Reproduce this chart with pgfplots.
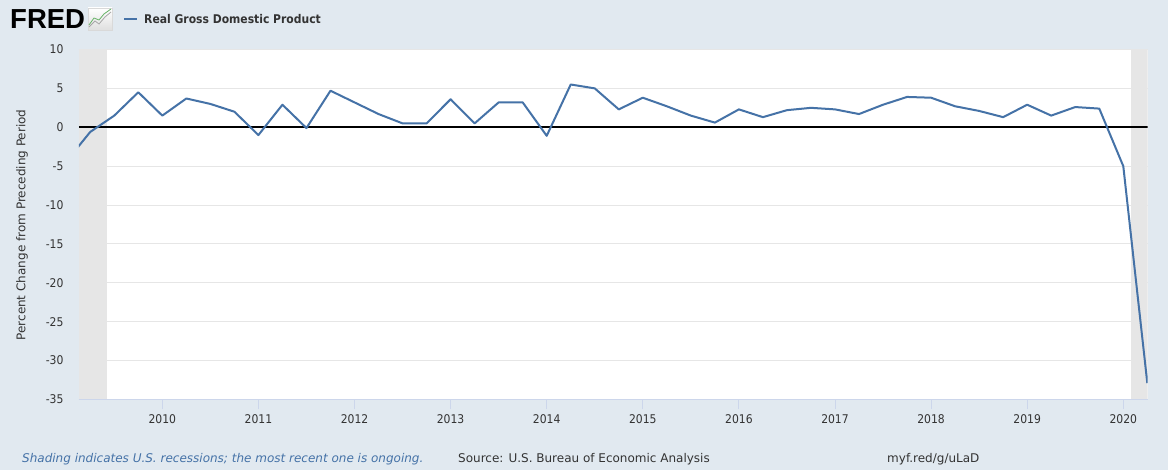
\documentclass[border=0pt]{standalone}
\usepackage{pgfplots}
\pgfplotsset{compat=1.18}
\usepackage{fontspec}
\setmainfont{DejaVu Sans}[FakeStretch=0.9]
\newfontfamily\regfont{DejaVu Sans}
\newfontfamily\logofont{Liberation Sans}
\definecolor{bgc}{HTML}{E1E9F0}
\definecolor{linec}{HTML}{4572A7}
\definecolor{shadec}{HTML}{E6E6E6}
\definecolor{gridc}{HTML}{E6E6E6}
\definecolor{axc}{HTML}{CCD6EB}
\definecolor{txtc}{HTML}{333333}
\begin{document}
\begin{tikzpicture}[x=1pt,y=1pt]
\fill[bgc] (0,0) rectangle (1168,470);
% logo
\node[anchor=base west, inner sep=0, text=black] at (10,441) {\logofont\fontsize{27.5}{27}\selectfont\bfseries FRED};
\shade[top color=white, bottom color=gray!25, draw=gray!30, line width=0.5pt] (88,440) rectangle (112,462);
\draw[gray!70, line width=0.8pt] (89,443) -- (95,449) -- (99,446) -- (105,453) -- (111,458);
\draw[green!50!black!60, line width=0.8pt] (89,445) -- (94,452) -- (99,450) -- (104,456) -- (111,461);
% legend
\draw[linec, line width=2pt] (124,451) -- (137,451);
\node[anchor=west, inner sep=0, text=txtc] at (144,451) {\fontsize{12}{14}\selectfont\bfseries Real Gross Domestic Product};
% y label
\node[rotate=90, inner sep=0, text=txtc] at (22,245) {\regfont\fontsize{12}{14}\selectfont Percent Change from Preceding Period};
% footer
\node[anchor=base west, inner sep=0, text=linec] at (22,7) {\regfont\fontsize{12}{14}\selectfont\itshape Shading indicates U.S. recessions; the most recent one is ongoing.};
\node[anchor=base west, inner sep=0, text=txtc] at (458,7) {\regfont\fontsize{12}{14}\selectfont Source: U.S. Bureau of Economic Analysis};
\node[anchor=base west, inner sep=0, text=txtc] at (887,7) {\regfont\fontsize{12}{14}\selectfont myf.red/g/uLaD};
\begin{axis}[
  at={(79pt,70.5pt)}, anchor=south west,
  scale only axis, width=1068.7pt, height=350pt,
  xmin=2009.133, xmax=2020.254, ymin=-35, ymax=10,
  axis background/.style={fill=white},
  xtick={2010,2011,2012,2013,2014,2015,2016,2017,2018,2019,2020},
  xticklabels={2010,2011,2012,2013,2014,2015,2016,2017,2018,2019,2020},
  ytick={-35,-30,-25,-20,-15,-10,-5,0,5,10},
  yticklabels={-35,-30,-25,-20,-15,-10,-5,0,5,10},
  axis x line*=bottom, axis y line*=left,
  x axis line style={draw=axc, line width=1pt, -},
  y axis line style={draw=none},
  ymajorgrids, grid style={draw=gridc, line width=1pt},
  tick align=outside, major tick length=10pt,
  xtick style={draw=axc, line width=1pt},
  ytick style={draw=none},
  ticklabel style={font=\fontsize{12}{14}\selectfont, text=txtc},
  xticklabel style={yshift=-2pt},
  yticklabel style={xshift=-2pt},
  clip=true,
]
\addplot[fill=shadec, draw=none] coordinates {(2009.133,-35) (2009.42,-35) (2009.42,10) (2009.133,10)} -- cycle;
\addplot[fill=shadec, draw=none] coordinates {(2020.085,-35) (2020.254,-35) (2020.254,10) (2020.085,10)} -- cycle;
\addplot[black, line width=2pt] coordinates {(2009.133,0) (2020.254,0)};
\addplot[linec, line width=2pt, line join=round] coordinates {
(2009.00,-4.4) (2009.25,-0.6) (2009.50,1.5) (2009.75,4.5)
(2010.00,1.5) (2010.25,3.7) (2010.50,3.0) (2010.75,2.0)
(2011.00,-1.0) (2011.25,2.9) (2011.50,-0.1) (2011.75,4.7)
(2012.00,3.2) (2012.25,1.7) (2012.50,0.5) (2012.75,0.5)
(2013.00,3.6) (2013.25,0.5) (2013.50,3.2) (2013.75,3.2)
(2014.00,-1.1) (2014.25,5.5) (2014.50,5.0) (2014.75,2.3)
(2015.00,3.8) (2015.25,2.7) (2015.50,1.5) (2015.75,0.6)
(2016.00,2.3) (2016.25,1.3) (2016.50,2.2) (2016.75,2.5)
(2017.00,2.3) (2017.25,1.7) (2017.50,2.9) (2017.75,3.9)
(2018.00,3.8) (2018.25,2.7) (2018.50,2.1) (2018.75,1.3)
(2019.00,2.9) (2019.25,1.5) (2019.50,2.6) (2019.75,2.4)
(2020.00,-5.0) (2020.25,-32.9)
};
\end{axis}
\end{tikzpicture}
\end{document}
